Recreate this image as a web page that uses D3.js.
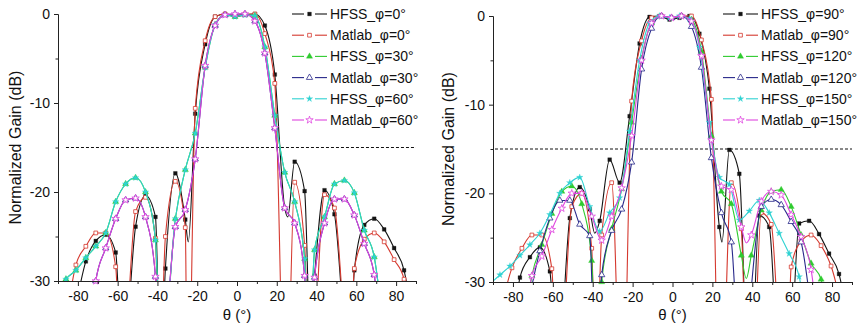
<!DOCTYPE html>
<html>
<head>
<meta charset="utf-8">
<script src="https://cdn.jsdelivr.net/npm/d3@7"></script>
<style>
  body { margin: 0; background: #fff; }
  svg { display: block; font-family: "Liberation Sans", Arial, sans-serif; }
</style>
</head>
<body>
<div id="chart"></div>
<script>
// ---- data: [theta (deg), normalized gain (dB)] ----
// "...Dips" hold curve-only points (nulls below -30 dB), no symbol drawn there
const thetaDomain = [-90, 90];
const gainDomain = [-30, 0];
const xMajorTicks = [-80, -60, -40, -20, 0, 20, 40, 60, 80];
const xMinorTicks = [-90, -70, -50, -30, -10, 10, 30, 50, 70, 90];
const yMajorTicks = [0, -10, -20, -30];
const yMinorTicks = [-5, -15, -25];
const refLevel = -15;

const leftLabels = ["HFSS_φ=0°", "Matlab_φ=0°", "HFSS_φ=30°", "Matlab_φ=30°", "HFSS_φ=60°", "Matlab_φ=60°"];
const rightLabels = ["HFSS_φ=90°", "Matlab_φ=90°", "HFSS_φ=120°", "Matlab_φ=120°", "HFSS_φ=150°", "Matlab_φ=150°"];

// left panel
const hfss0 = [[-76,-27.8],[-71,-25.5],[-66,-24.8],[-61,-26.8],[-51,-23.9],[-46,-20.4],[-41,-22.8],[-36,-28.6],[-31,-17.9],[-26,-23.1],[-21,-11.2],[-16,-3.4],[-11,-0.3],[-6,0],[-1,-0.3],[4,-0.1],[9,0],[14,-1.3],[19,-6.8],[24,-21.8],[29,-16.6],[34,-19.9],[39,-29.4],[44,-19.8],[49,-22.5],[59,-28.8],[64,-23.7],[69,-23],[74,-24.2],[79,-26.3],[84,-28.8]];
const hfss0Dips = [[-82,-34],[-57.5,-40],[-38.5,-40],[-24.5,-25.6],[25.5,-22.8],[36.8,-36],[56.5,-40],[88,-34]];

const matlab0 = [[-81,-28.2],[-76,-26.1],[-71,-24.6],[-66,-24.6],[-61,-28.4],[-51,-22.2],[-46,-20.6],[-41,-25.2],[-36,-25],[-31,-18.8],[-26,-24],[-21,-10.6],[-16,-3],[-11,-0.3],[-6,0],[-1,-0.2],[4,0],[9,0],[14,-2.2],[19,-7.8],[29,-18.9],[34,-26],[44,-20.3],[49,-21.8],[59,-28.6],[64,-25.3],[69,-24.6],[74,-25.6],[79,-27.6],[84,-29.8]];
const matlab0Dips = [[-85,-33],[-58,-42],[-39,-42],[-24.8,-48],[24.5,-48],[37,-42],[56.5,-40],[87,-34]];

const hfss30 = [[-86,-29.8],[-81,-28.8],[-76,-27.4],[-71,-26.1],[-66,-24.6],[-61,-21.1],[-56,-19.1],[-51,-18.4],[-46,-20],[-41,-25.4],[-31,-23],[-26,-17.5],[-21,-13.4],[-16,-6],[-11,-1.2],[-6,-0.1],[-1,-0.3],[4,-0.1],[9,-0.2],[14,-3.7],[19,-11.4],[24,-17.8],[29,-21.1],[34,-27.5],[39,-26.5],[44,-22.8],[49,-19.1],[54,-18.7],[59,-20.1],[64,-24.3],[69,-27.3]];
const hfss30Dips = [[-90,-31.5],[-38,-40],[36.3,-38],[73,-34]];

const matlab30 = [[-71,-30],[-66,-26.3],[-61,-23],[-56,-20.9],[-51,-20.7],[-46,-22.8],[-41,-29.5],[-31,-23.9],[-26,-22],[-21,-16.3],[-16,-5.8],[-11,-1.3],[-6,-0.1],[-1,0],[4,0],[9,-0.8],[14,-4.4],[19,-12.8],[24,-21.8],[29,-23.5],[34,-29.4],[39,-29.6],[44,-23.5],[49,-20.8],[54,-20.8],[59,-22.6],[64,-25.8],[69,-29.3]];
const matlab30Dips = [[-73,-34],[-38,-40],[36.6,-40],[72,-36]];

const hfss60 = [[-86,-29.8],[-81,-28.8],[-76,-27.4],[-71,-26.1],[-66,-24.6],[-61,-21.1],[-56,-19.1],[-51,-18.4],[-46,-20],[-41,-25.4],[-31,-23],[-26,-17.5],[-21,-13.4],[-16,-6],[-11,-1.2],[-6,-0.1],[-1,-0.3],[4,-0.1],[9,-0.2],[14,-3.7],[19,-11.4],[24,-17.8],[29,-21.1],[34,-27.5],[39,-26.5],[44,-22.8],[49,-19.1],[54,-18.7],[59,-20.1],[64,-24.3],[69,-27.3]];
const hfss60Dips = [[-90,-31.5],[-38,-40],[36.3,-38],[73,-34]];

const matlab60 = [[-71,-30],[-66,-26.3],[-61,-23],[-56,-20.9],[-51,-20.7],[-46,-22.8],[-41,-29.5],[-31,-23.9],[-26,-22],[-21,-16.3],[-16,-5.8],[-11,-1.3],[-6,-0.1],[-1,0],[4,0],[9,-0.8],[14,-4.4],[19,-12.8],[24,-21.8],[29,-23.5],[34,-29.4],[39,-29.6],[44,-23.5],[49,-20.8],[54,-20.8],[59,-22.6],[64,-25.8],[69,-29.3]];
const matlab60Dips = [[-73,-34],[-38,-40],[36.6,-40],[72,-36]];

// right panel
const hfss90 = [[-76.5,-29.5],[-71.5,-27.2],[-66.5,-26.1],[-61.5,-28.8],[-51.5,-22.8],[-46.5,-19.3],[-41.5,-21.8],[-36.5,-23.1],[-31.5,-16.2],[-26.5,-18.8],[-21.5,-11.3],[-16.5,-3.1],[-11.5,-0.1],[-6.5,0],[-1.5,-0.4],[3.5,-0.2],[8.5,0],[13.5,-2],[18.5,-8.2],[23.5,-23.8],[28.5,-15.1],[33.5,-17.8],[43.5,-22.5],[48.5,-23.8],[63.5,-23.4],[68.5,-23.1],[73.5,-24.6],[78.5,-26.8],[83.5,-29.1]];
const hfss90Dips = [[-79,-34],[-57.5,-40],[-39,-24.5],[24.8,-25.5],[38.5,-45],[53.5,-40],[58.5,-40],[87,-33]];

const matlab90 = [[-80.5,-28.4],[-75.5,-26.2],[-70.5,-24.7],[-65.5,-24.7],[-60.5,-28.5],[-50.5,-21.5],[-45.5,-20],[-40.5,-26.2],[-35.5,-24.7],[-30.5,-18.8],[-20.5,-9.6],[-15.5,-2.8],[-10.5,-0.2],[-5.5,0],[-0.5,-0.2],[4.5,0],[9.5,0],[14.5,-2.7],[19.5,-9.4],[29.5,-18.8],[34.5,-24],[44.5,-22.2],[49.5,-23.5],[59.5,-28.3],[64.5,-25.4],[69.5,-24.7],[74.5,-25.9],[79.5,-28.2]];
const matlab90Dips = [[-86,-33],[-57.5,-45],[-38.5,-42],[-25.2,-48],[23.9,-48],[37.5,-42],[40.5,-40],[55,-40],[57.5,-40],[86,-34]];

const hfss120 = [[-70.5,-29.3],[-65.5,-25.8],[-60.5,-22.3],[-55.5,-19.8],[-50.5,-19.2],[-45.5,-21.2],[-40.5,-27.6],[-35.5,-30],[-30.5,-24],[-25.5,-19.5],[-20.5,-12],[-15.5,-4.8],[-10.5,-0.8],[-5.5,0],[-0.5,-0.2],[4.5,0],[9.5,-0.4],[14.5,-4],[19.5,-13.5],[24.5,-19.8],[29.5,-21.2],[34.5,-27],[39.5,-27],[44.5,-21.9],[49.5,-19.8],[54.5,-19.6],[59.5,-21.5],[64.5,-24.7],[69.5,-27.9],[74.5,-29.7]];
const hfss120Dips = [[-73,-33],[-38,-40],[37,-29.6],[77,-33]];

const matlab120 = [[-66.5,-26.5],[-61.5,-22.8],[-56.5,-20.8],[-51.5,-20.8],[-46.5,-23.5],[-41.5,-24.8],[-35.5,-29.2],[-30.5,-24.2],[-25.5,-21.8],[-20.5,-16.5],[-15.5,-6],[-10.5,-1.4],[-5.5,0],[-0.5,-0.2],[4.5,0],[9.5,-1.2],[14.5,-5.8],[19.5,-16],[24.5,-22.2],[29.5,-25.5],[44.5,-21.5],[49.5,-20.7],[54.5,-21.3],[59.5,-23.2],[64.5,-25.5]];
const matlab120Dips = [[-72,-32],[-38.5,-42],[34,-40],[37,-36],[71,-36]];

const hfss150 = [[-86.5,-29.2],[-81.5,-28.2],[-76.5,-27],[-71.5,-25.8],[-66.5,-24.5],[-61.5,-22.4],[-56.5,-20],[-51.5,-18.8],[-46.5,-18.2],[-41.5,-21.5],[-36.5,-24.3],[-31.5,-22.2],[-26.5,-20.5],[-21.5,-13],[-16.5,-5],[-11.5,-0.8],[-6.5,0],[-1.5,-0.2],[3.5,0],[8.5,-0.3],[13.5,-3.5],[18.5,-12],[23.5,-18.2],[28.5,-19],[33.5,-23],[38.5,-22],[43.5,-20.8],[48.5,-22.2],[53.5,-24.5],[58.5,-26.8],[63.5,-29.4]];
const hfss150Dips = [[-90,-29.9],[67,-34]];

const matlab150 = [[-70.5,-29.3],[-65.5,-27.1],[-60.5,-24.1],[-55.5,-21.7],[-50.5,-20],[-45.5,-20],[-40.5,-22.6],[-35.5,-25.3],[-30.5,-22.6],[-25.5,-19.4],[-20.5,-13.5],[-15.5,-5],[-10.5,-0.8],[-5.5,0],[-0.5,-0.2],[4.5,0],[9.5,-0.6],[14.5,-4.5],[19.5,-14],[24.5,-19.2],[29.5,-19.6],[34.5,-23.8],[39.5,-24.7],[44.5,-20.9],[49.5,-19.8],[54.5,-20.2],[59.5,-22.4],[64.5,-24.9],[69.5,-28.6]];
const matlab150Dips = [[-73.5,-33],[37,-25.6],[72.5,-34]];

// ---- styles ----
const styles = [
  { color: "#141414", sym: d3.symbolSquare, size: 14, filled: true },
  { color: "#d5392f", sym: d3.symbolSquare, size: 14, filled: false },
  { color: "#2fcb2f", sym: d3.symbolTriangle, size: 17, filled: true },
  { color: "#28288a", sym: d3.symbolTriangle, size: 17, filled: false },
  { color: "#2fd2d2", sym: d3.symbolStar, size: 13, filled: true },
  { color: "#df45df", sym: d3.symbolStar, size: 17, filled: false },
];

const W = 859, H = 326;
const svg = d3.select("#chart").append("svg").attr("width", W).attr("height", H);

function drawPanel(cfg) {
  const x = d3.scaleLinear().domain(thetaDomain).range([cfg.left, cfg.right]);
  const y = d3.scaleLinear().domain(gainDomain).range([cfg.bottom, cfg.top]);
  const g = svg.append("g");

  g.append("clipPath").attr("id", cfg.id)
    .append("rect")
    .attr("x", cfg.left).attr("y", cfg.top - 3)
    .attr("width", cfg.right - cfg.left).attr("height", cfg.bottom - cfg.top + 3);

  // -15 dB reference
  g.append("line")
    .attr("x1", x(cfg.dashFrom)).attr("x2", x(thetaDomain[1]))
    .attr("y1", y(refLevel)).attr("y2", y(refLevel))
    .attr("stroke", "#111").attr("stroke-width", 1)
    .attr("stroke-dasharray", "3,2");

  const line = d3.line()
    .x(d => x(d[0])).y(d => y(d[1]))
    .curve(d3.curveMonotoneX);

  cfg.series.forEach((s, i) => {
    const st = styles[i];
    const pts = s.pts.concat(s.dips).sort((a, b) => a[0] - b[0]);
    g.append("path")
      .attr("clip-path", `url(#${cfg.id})`)
      .attr("d", line(pts))
      .attr("fill", "none")
      .attr("stroke", st.color)
      .attr("stroke-width", 1.1);

    g.selectAll(null)
      .data(s.pts.filter(d => d[1] >= -30.3))
      .enter().append("path")
      .attr("transform", d => `translate(${x(d[0])},${y(d[1])})`)
      .attr("d", d3.symbol(st.sym, st.size))
      .attr("fill", st.filled ? st.color : "#fff")
      .attr("stroke", st.color)
      .attr("stroke-width", st.filled ? 0.3 : 0.8);
  });

  // axes
  g.append("g")
    .attr("transform", `translate(0,${cfg.bottom})`)
    .call(d3.axisBottom(x).tickValues(xMajorTicks).tickFormat(d => String(d))
      .tickSize(5).tickSizeOuter(0).tickPadding(5));
  g.append("g")
    .attr("transform", `translate(0,${cfg.bottom})`)
    .call(d3.axisBottom(x).tickValues(xMinorTicks).tickFormat("").tickSize(3).tickSizeOuter(0));
  g.append("g")
    .attr("transform", `translate(${cfg.left},0)`)
    .call(d3.axisLeft(y).tickValues(yMajorTicks).tickFormat(d => String(d))
      .tickSize(4).tickSizeOuter(0).tickPadding(4));
  g.append("g")
    .attr("transform", `translate(${cfg.left},0)`)
    .call(d3.axisLeft(y).tickValues(yMinorTicks).tickFormat("").tickSize(2.5).tickSizeOuter(0));

  g.selectAll(".domain, .tick line").attr("stroke", "#222");
  g.selectAll(".tick text").attr("fill", "#111").style("font-size", "14px")
    .style("font-family", "'Liberation Sans', Arial, sans-serif");

  // axis titles
  g.append("text")
    .attr("transform", `translate(${cfg.yTitleX},${(cfg.top + cfg.bottom) / 2}) rotate(-90)`)
    .attr("text-anchor", "middle")
    .attr("font-size", 16).attr("fill", "#111")
    .text("Normalized Gain (dB)");
  g.append("text")
    .attr("x", x(0)).attr("y", 320)
    .attr("text-anchor", "middle")
    .attr("font-size", 15).attr("fill", "#111")
    .text("θ (°)");

  // legend
  const legend = g.append("g");
  cfg.labels.forEach((lab, i) => {
    const st = styles[i];
    const ly = 14 + i * 21.2;
    const lx = cfg.legendX;
    legend.append("line")
      .attr("x1", lx).attr("x2", lx + 12).attr("y1", ly).attr("y2", ly)
      .attr("stroke", st.color).attr("stroke-width", 1.1);
    legend.append("line")
      .attr("x1", lx + 23).attr("x2", lx + 35).attr("y1", ly).attr("y2", ly)
      .attr("stroke", st.color).attr("stroke-width", 1.1);
    legend.append("path")
      .attr("transform", `translate(${lx + 17.5},${ly})`)
      .attr("d", d3.symbol(st.sym, st.size))
      .attr("fill", st.filled ? st.color : "#fff")
      .attr("stroke", st.color)
      .attr("stroke-width", st.filled ? 0.3 : 0.8);
    legend.append("text")
      .attr("x", lx + 38).attr("y", ly + 5)
      .attr("font-size", 14).attr("fill", "#111")
      .text(lab);
  });
}

drawPanel({
  id: "clipL", left: 58, right: 416, top: 14, bottom: 281,
  dashFrom: -86, yTitleX: 21, legendX: 292, labels: leftLabels,
  series: [
    { pts: hfss0, dips: hfss0Dips },
    { pts: matlab0, dips: matlab0Dips },
    { pts: hfss30, dips: hfss30Dips },
    { pts: matlab30, dips: matlab30Dips },
    { pts: hfss60, dips: hfss60Dips },
    { pts: matlab60, dips: matlab60Dips },
  ],
});

drawPanel({
  id: "clipR", left: 493, right: 852, top: 16, bottom: 282,
  dashFrom: -89, yTitleX: 454, legendX: 723, labels: rightLabels,
  series: [
    { pts: hfss90, dips: hfss90Dips },
    { pts: matlab90, dips: matlab90Dips },
    { pts: hfss120, dips: hfss120Dips },
    { pts: matlab120, dips: matlab120Dips },
    { pts: hfss150, dips: hfss150Dips },
    { pts: matlab150, dips: matlab150Dips },
  ],
});
</script>
</body>
</html>
